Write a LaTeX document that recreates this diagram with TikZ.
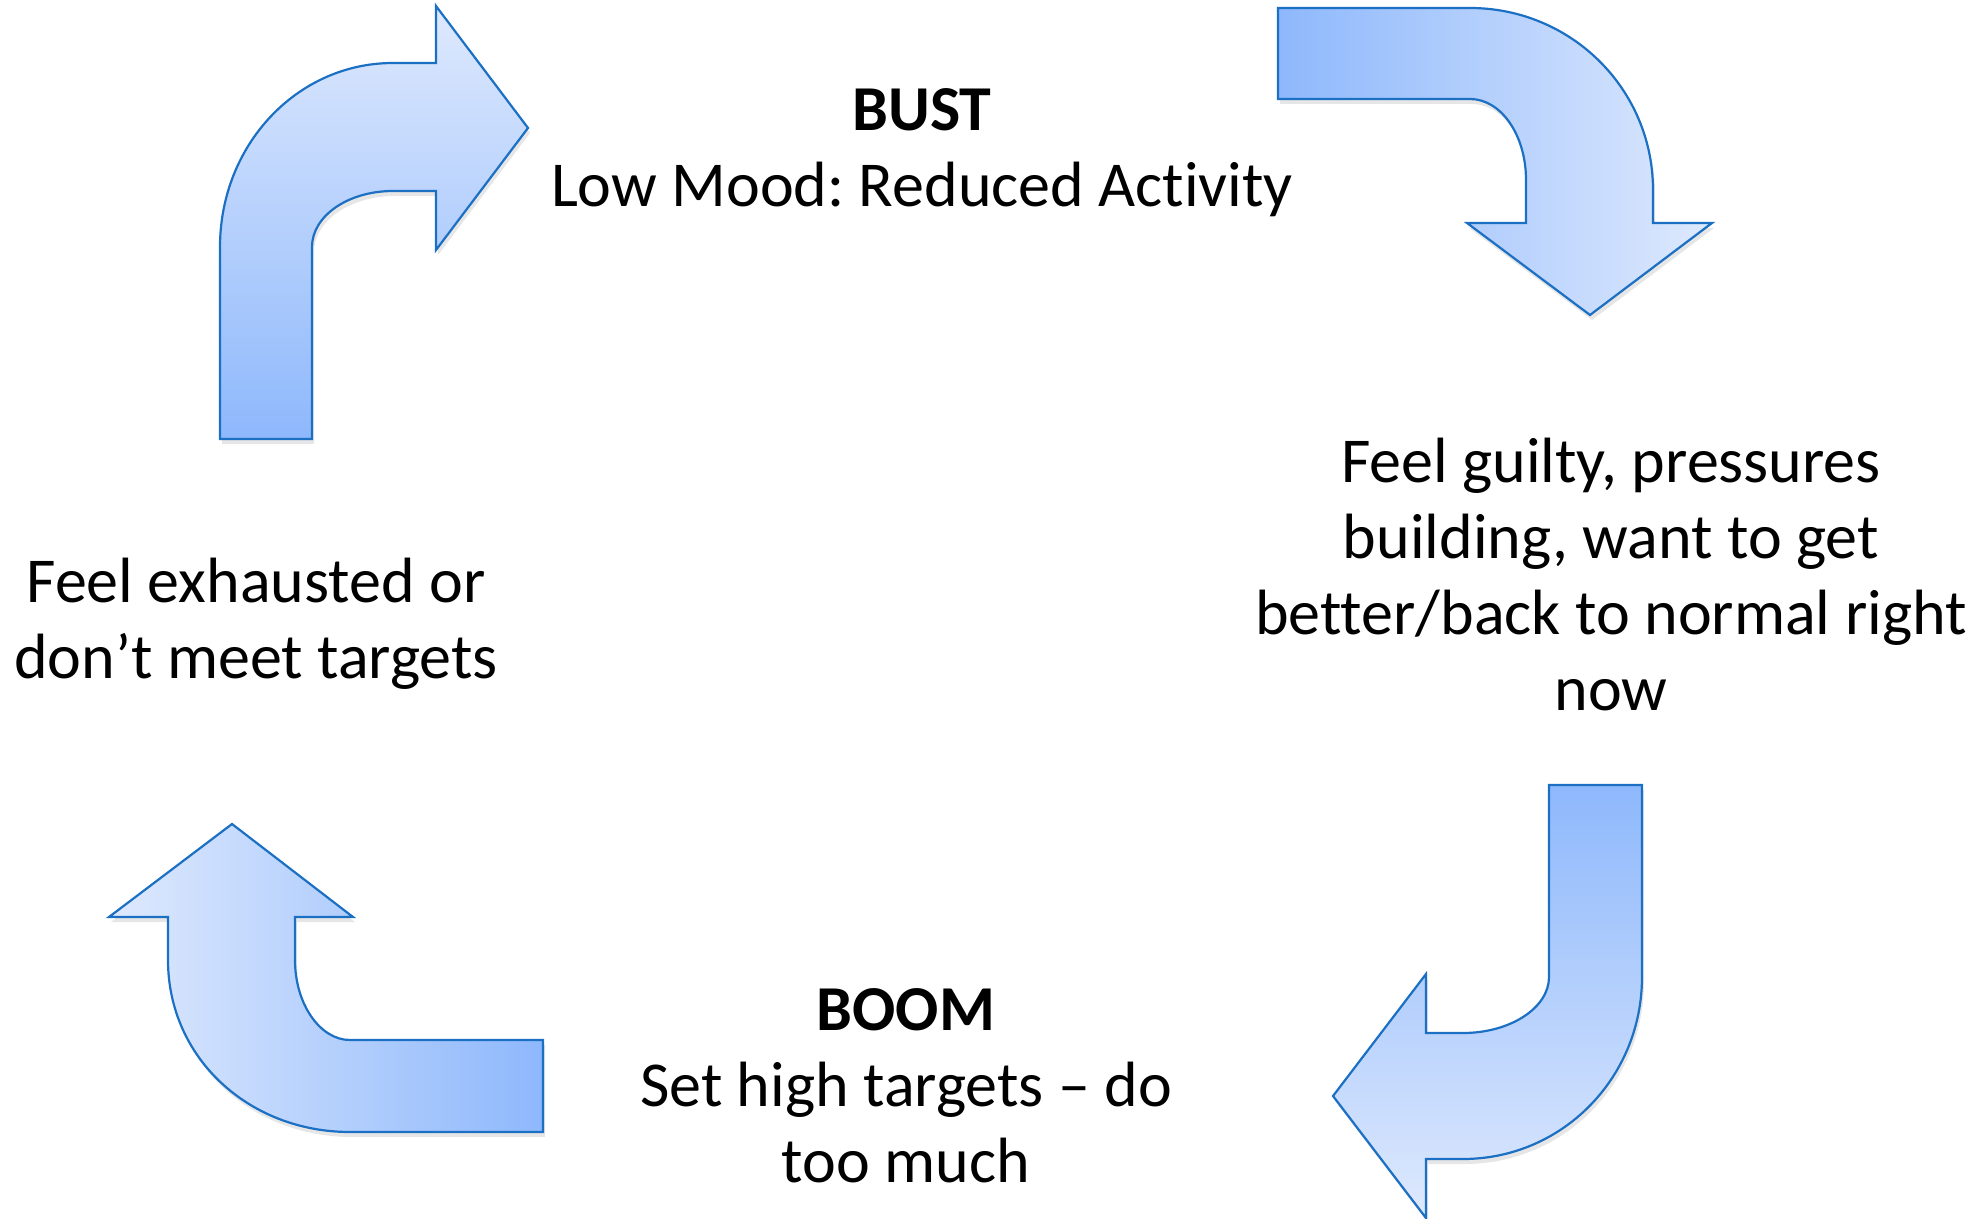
\documentclass[tikz,border=0pt]{standalone}
\usepackage{fontspec}
\setmainfont[Ligatures=NoCommon]{Carlito}
\usetikzlibrary{shadows}
\definecolor{arrowline}{RGB}{28,112,196}
\definecolor{arrowdark}{RGB}{142,184,252}
\definecolor{arrowlight}{RGB}{222,233,253}
\frenchspacing
\begin{document}
\begin{tikzpicture}[x=0.5pt, y=-0.5pt, font=\fontsize{32}{38}\selectfont,
    bent/.style={draw=arrowline, line width=1.1pt, drop shadow={shadow xshift=1pt, shadow yshift=-2.5pt, opacity=.2}},
    say/.style={anchor=base, align=center, inner sep=0pt}]
  \useasboundingbox (0,0) rectangle (1987,1219);
  % the four bent arrows, tail dark, head light
  \shadedraw[bent, top color=arrowlight, bottom color=arrowdark] (220,439)--(220,247) .. controls (220,145) and (297,63) .. (393,63)--(436,63)--(436,6)--(528,128)--(436,250)--(436,191)--(393,191) .. controls (348,191) and (312,216) .. (312,247)--(312,439)--cycle;
  \shadedraw[bent, left color=arrowdark, right color=arrowlight] (1278,8)--(1470,8) .. controls (1571,8) and (1653,89) .. (1653,190)--(1653,223)--(1712,223)--(1590,315)--(1467,223)--(1526,223)--(1526,180) .. controls (1526,135) and (1501,99) .. (1470,99)--(1278,99)--cycle;
  \shadedraw[bent, top color=arrowdark, bottom color=arrowlight] (1549,785)--(1642,785)--(1642,977) .. controls (1642,1078) and (1562,1159) .. (1463,1159)--(1426,1159)--(1426,1218)--(1333,1096)--(1426,974)--(1426,1033)--(1463,1033) .. controls (1510,1033) and (1549,1008) .. (1549,977)--cycle;
  \shadedraw[bent, left color=arrowlight, right color=arrowdark] (543,1040)--(543,1132)--(350,1132) .. controls (249,1132) and (168,1058) .. (168,960)--(168,917)--(109,917)--(232,824)--(353,917)--(295,917)--(295,960) .. controls (295,1004) and (320,1040) .. (350,1040)--cycle;
  % texts, anchored at the baseline of their last line
  \node[say] (bust) at (922,207) {\textbf{BUST}\\Low Mood: Reduced Activity};
  \node[say] (guilt) at (1611,710) {Feel guilty, pressures\\building, want to get\\better/back to normal right\\now};
  \node[say] (boom) at (906,1182) {\textbf{BOOM}\\Set high targets – do\\too much};
  \node[say] (tired) at (256,678) {Feel exhausted or\\don’t meet targets};
\end{tikzpicture}
\end{document}
